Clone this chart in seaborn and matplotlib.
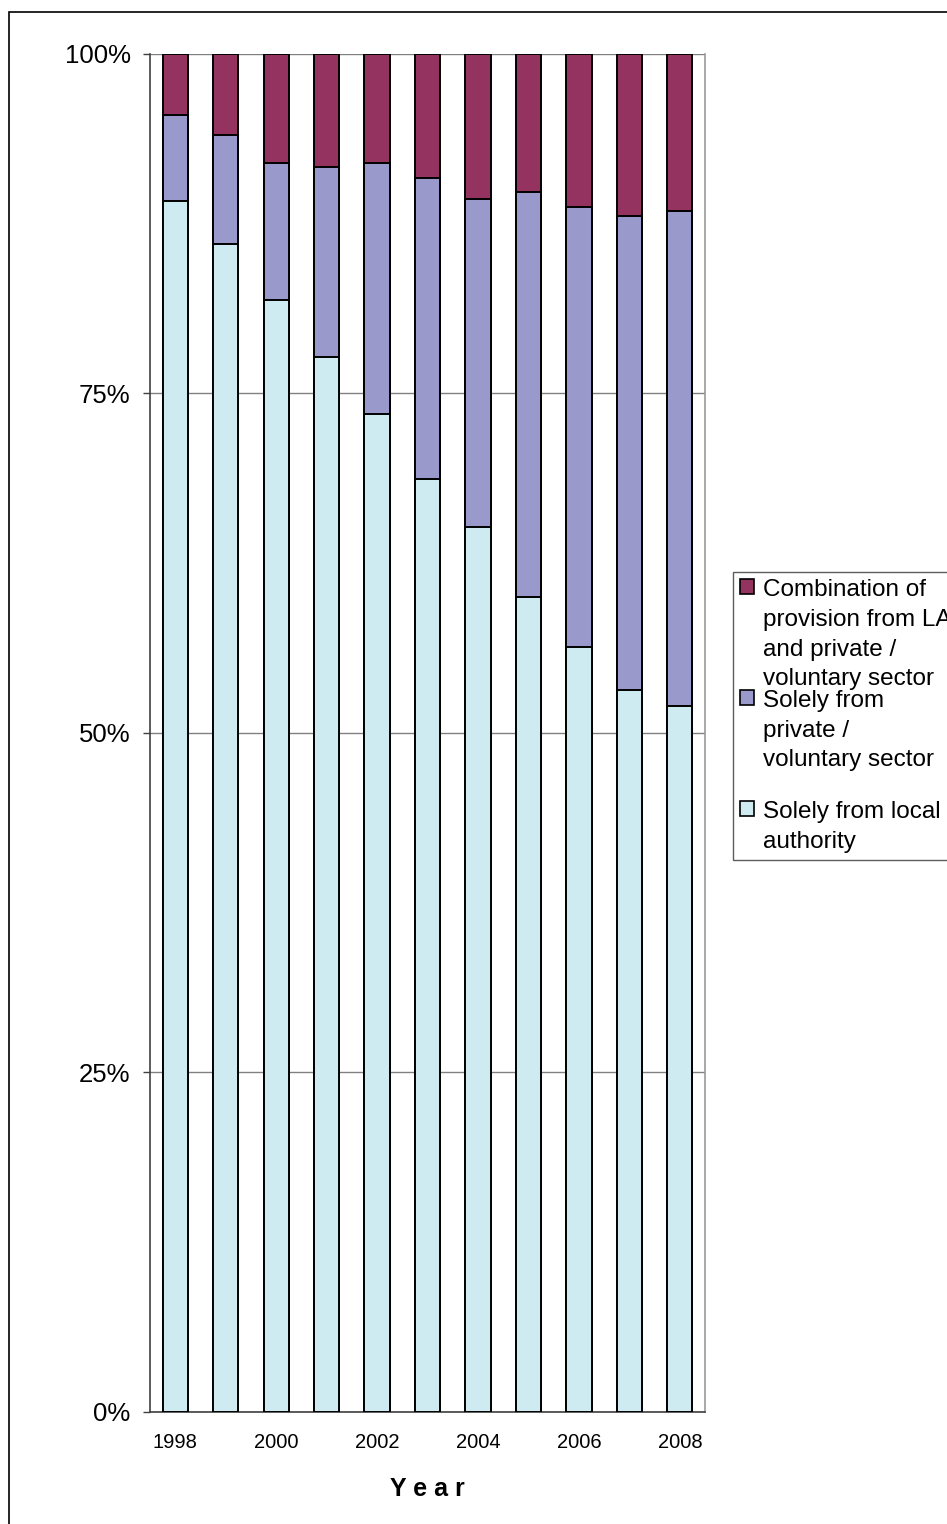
import matplotlib
matplotlib.use("Agg")
import matplotlib.pyplot as plt
import matplotlib.patches as mpatches
import seaborn as sns
import numpy as np

# Provision of service, percentage of total, by year
years = ["1998", "1999", "2000", "2001", "2002", "2003",
         "2004", "2005", "2006", "2007", "2008"]
local_authority = [89.2, 86.0, 81.9, 77.7, 73.5, 68.7, 65.2, 60.0, 56.3, 53.2, 52.0]
private_voluntary = [6.3, 8.0, 10.1, 14.0, 18.5, 22.2, 24.1, 29.8, 32.4, 34.9, 36.4]
combination = [4.5, 6.0, 8.0, 8.3, 8.0, 9.1, 10.7, 10.2, 11.3, 11.9, 11.6]

labels = ["Combination of\nprovision from LA\nand private /\nvoluntary sector",
          "Solely from\nprivate /\nvoluntary sector\n",
          "Solely from local\nauthority"]
colors = ["#953360", "#9999CC", "#CDEBF0"]

sns.set_style("white")
plt.rcParams['font.family'] = ['Liberation Sans', 'DejaVu Sans']
plt.rcParams['text.color'] = 'black'
plt.rcParams['xtick.color'] = 'black'
plt.rcParams['ytick.color'] = 'black'
plt.rcParams['axes.labelcolor'] = 'black'

fig = plt.figure(figsize=(9.47, 15.24), dpi=100)
ax = fig.add_axes([0.1584, 0.0735, 0.5861, 0.8911])

la = np.array(local_authority)
pv = np.array(private_voluntary)
cb = np.array(combination)
tops = [la + pv + cb, la + pv, la]

for h, c in zip(tops, colors):
    sns.barplot(x=years, y=h, color=c, width=0.5, edgecolor="black",
                linewidth=1.4, saturation=1, ax=ax, zorder=3)

ax.set_ylim(0, 100)
ax.set_xlim(-0.5, len(years) - 0.5)
ax.set_yticks([0, 25, 50, 75, 100])
ax.set_yticklabels(["0%", "25%", "50%", "75%", "100%"], fontsize=18.5)
ax.set_xticks(range(len(years)))
ax.set_xticklabels([y if i % 2 == 0 else "" for i, y in enumerate(years)], fontsize=14.5)
ax.set_xticks(np.arange(-0.5, len(years)), minor=True)
ax.tick_params(axis="x", which="major", length=0, pad=15)
ax.tick_params(axis="x", which="minor", length=5, width=1, color="#404040", direction="out")
ax.tick_params(axis="y", length=5, width=1, color="#404040", direction="out", pad=9, left=True)

ax.yaxis.grid(True, color="#808080", linewidth=1, zorder=0)
ax.set_axisbelow(True)
for s in ["left", "bottom"]:
    ax.spines[s].set_color("#404040")
    ax.spines[s].set_linewidth(1.2)
ax.spines["right"].set_color("#999999")
ax.spines["right"].set_linewidth(1.2)
ax.spines["top"].set_visible(False)

ax.set_xlabel("Y e a r", fontsize=18, fontweight="bold", labelpad=18)
ax.set_ylabel("")

handles = [mpatches.Patch(facecolor=c, edgecolor="black", linewidth=1.2) for c in colors]
leg = fig.legend(handles, labels, loc="upper left", bbox_to_anchor=(0.774, 0.6247),
                 fontsize=17.5, frameon=True, fancybox=False, borderaxespad=0,
                 handlelength=0.55, handleheight=0.55, handletextpad=0.37,
                 borderpad=0.3, labelspacing=0.0)
leg.get_frame().set_edgecolor("#333333")
leg.get_frame().set_linewidth(1.0)
for t in leg.get_texts():
    t.set_linespacing(1.45)
# put each legend square next to the first line of its label
for col in leg._legend_handle_box.get_children():
    for row in col.get_children():
        row.align = "top"

# outer chart border
fig.patches.append(mpatches.Rectangle((9 / 947, -0.01), 1.0, 0.9921 + 0.01,
                                      transform=fig.transFigure, fill=False,
                                      edgecolor="black", linewidth=1.2))

fig.savefig("out.png", dpi=100)
